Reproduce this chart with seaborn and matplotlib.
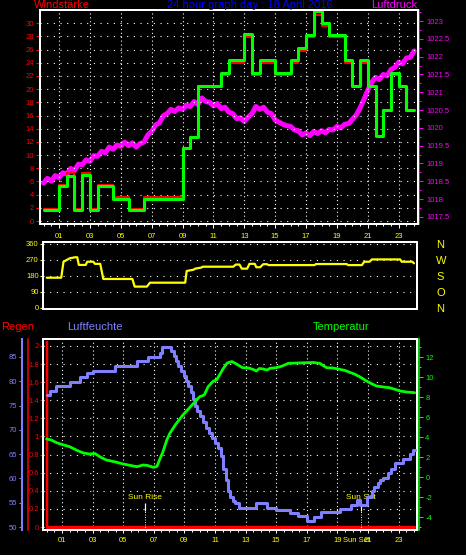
import numpy as np
import pandas as pd
import seaborn as sns
import matplotlib.pyplot as plt
from matplotlib.ticker import MultipleLocator, FormatStrFormatter

W, H = 466, 555
PT = 0.72  # points per pixel at 100 dpi

# ---------------- data ----------------
hour_ticks = [1, 3, 5, 7, 9, 11, 13, 15, 17, 19, 21, 23]
hour_labels = ['01', '03', '05', '07', '09', '11', '13', '15', '17', '19', '21', '23']

# wind (Windstaerke), half hour steps from 00:00
wind_gust = [1.6, 1.6, 5.25, 6.9, 1.6, 7.0, 1.6, 5.3, 5.3, 3.35,
             3.35, 1.6, 1.6, 3.4, 3.4, 3.4, 3.4, 3.4, 11.0, 12.8,
             20.5, 20.5, 20.5, 22.4, 24.4, 24.4, 28.3, 22.5, 24.4, 24.4,
             22.5, 22.5, 24.4, 26.2, 28.2, 31.8, 30.0, 28.2, 28.2, 24.4,
             20.5, 24.4, 20.5, 12.9, 16.8, 22.5, 20.5, 16.8, 16.8]
wind_avg = [1.8, 1.8, 5.5, 7.3, 1.8, 7.3, 1.8, 5.5, 5.5, 3.6,
            3.6, 1.8, 1.8, 3.6, 3.6, 3.6, 3.6, 3.6, 11.0, 12.8,
            20.5, 20.5, 20.5, 22.1, 24.0, 24.0, 27.9, 22.1, 24.0, 24.0,
            22.1, 22.1, 24.0, 25.8, 27.9, 31.3, 29.6, 27.9, 27.9, 24.0,
            20.5, 24.0, 20.5, 12.9, 16.8, 22.1, 20.5, 16.8, 16.8]
wind_hours = np.linspace(0, 24, len(wind_gust))

# pressure (Luftdruck), quarter hour samples
pressure = [1018.45, 1018.58, 1018.50, 1018.66, 1018.60, 1018.74, 1018.70, 1018.86,
            1018.80, 1018.98, 1018.96, 1019.10, 1019.06, 1019.22, 1019.20, 1019.34,
            1019.30, 1019.46, 1019.40, 1019.52, 1019.48, 1019.60, 1019.50, 1019.58,
            1019.46, 1019.56, 1019.60, 1019.80, 1019.90, 1020.08, 1020.14, 1020.34,
            1020.40, 1020.52, 1020.46, 1020.56, 1020.52, 1020.64, 1020.60, 1020.74,
            1020.66, 1020.84, 1020.74, 1020.72, 1020.62, 1020.68, 1020.54, 1020.58,
            1020.44, 1020.40, 1020.26, 1020.28, 1020.18, 1020.30, 1020.40, 1020.60,
            1020.52, 1020.58, 1020.44, 1020.40, 1020.22, 1020.16, 1020.10, 1020.06,
            1020.04, 1019.94, 1019.92, 1019.80, 1019.86, 1019.78, 1019.90, 1019.84,
            1019.92, 1019.86, 1019.96, 1019.94, 1020.04, 1020.00, 1020.10, 1020.12,
            1020.24, 1020.36, 1020.56, 1020.80, 1021.06, 1021.28, 1021.42, 1021.36,
            1021.50, 1021.46, 1021.64, 1021.70, 1021.84, 1021.80, 1021.96, 1021.98,
            1022.16]
p_hours = np.linspace(0, 24, len(pressure))

# wind direction
dir_hours = [0.0, 0.95, 1.1, 1.5, 1.85, 2.0, 2.1, 2.55, 2.65, 3.05,
             3.15, 3.5, 3.7, 5.6, 5.75, 6.55, 6.75, 9.05, 9.15, 9.6,
             9.7, 10.1, 10.2, 12.2, 12.35, 12.6, 12.75, 13.1, 13.25, 13.6,
             13.7, 13.95, 14.15, 14.4, 14.5, 17.5, 17.6, 19.6, 19.7, 20.6,
             20.75, 21.1, 21.25, 23.1, 23.2, 23.9, 24.0]
dir_deg = [170, 170, 260, 279, 285, 285, 242, 242, 260, 260,
           248, 248, 163, 163, 120, 120, 142, 142, 208, 215,
           221, 227, 232, 232, 244, 244, 221, 221, 248, 248,
           229, 229, 246, 246, 241, 241, 247, 247, 241, 241,
           260, 260, 273, 273, 260, 260, 251]
dir_ticks = [0, 90, 180, 270, 360]
dir_names = ['N', 'O', 'S', 'W', 'N']

# humidity (Luftfeuchte), stepped
hum_hours = [0.0, 0.2, 0.6, 1.5, 2.2, 2.65, 3.0, 4.45, 5.9, 6.6,
             7.4, 7.55, 8.15, 8.3, 8.45, 8.6, 8.8, 8.95, 9.1, 9.25,
             9.4, 9.55, 9.7, 9.85, 10.0, 10.2, 10.4, 10.6, 10.8, 11.0,
             11.2, 11.4, 11.55, 11.7, 11.85, 12.0, 12.15, 12.3, 12.6, 13.7,
             14.4, 15.0, 15.9, 16.4, 17.0, 17.5, 17.95, 19.15, 19.9, 20.3,
             20.5, 20.9, 21.25, 21.4, 21.65, 21.8, 22.0, 22.3, 22.5, 22.75,
             23.3, 23.75, 23.95, 24.05]
humidity = [77.2, 78.0, 79.0, 79.9, 80.9, 81.8, 82.1, 83.1, 84.2, 84.9,
            85.9, 87.0, 86.2, 85.2, 84.2, 83.2, 82.2, 81.0, 80.0, 79.0,
            77.8, 76.4, 75.0, 73.8, 72.8, 71.6, 70.4, 69.4, 68.4, 67.4,
            66.2, 64.6, 62.0, 59.6, 57.4, 56.2, 55.4, 54.9, 54.0, 55.0,
            54.0, 53.5, 53.0, 52.2, 51.2, 52.1, 53.2, 53.7, 54.5, 55.6,
            54.5, 56.2, 57.4, 58.2, 59.0, 59.6, 60.2, 61.2, 62.0, 63.1,
            64.0, 65.0, 65.8, 65.8]

# temperature
temp_hours = [0.0, 0.3, 0.65, 1.0, 1.5, 2.0, 2.4, 2.8, 3.15, 3.5,
              3.9, 4.5, 5.0, 5.5, 5.9, 6.3, 6.6, 6.95, 7.2, 7.4,
              7.6, 7.85, 8.05, 8.4, 8.9, 9.5, 10.0, 10.3, 10.55, 10.9,
              11.1, 11.55, 11.8, 12.1, 12.4, 12.8, 13.2, 13.5, 13.7, 13.9,
              14.15, 14.4, 14.6, 15.0, 15.4, 15.8, 16.4, 17.0, 17.4, 17.85,
              18.0, 18.3, 18.7, 19.15, 19.5, 19.8, 20.1, 20.45, 20.9, 21.2,
              21.55, 22.0, 22.4, 22.8, 23.1, 23.5, 24.05]
temperature = [3.8, 3.7, 3.43, 3.25, 3.03, 2.65, 2.4, 2.3, 2.35, 2.0,
               1.7, 1.5, 1.3, 1.15, 1.03, 1.2, 1.15, 0.97, 1.05, 1.8,
               2.53, 3.7, 4.37, 5.2, 6.2, 7.2, 8.03, 8.2, 9.03, 9.6,
               9.7, 10.87, 11.4, 11.55, 11.3, 10.93, 10.9, 10.75, 10.6, 10.85,
               10.8, 10.7, 10.87, 10.93, 11.1, 11.37, 11.4, 11.43, 11.45, 11.37,
               11.2, 10.93, 10.9, 10.77, 10.65, 10.47, 10.3, 10.03, 9.6, 9.35,
               9.1, 9.0, 8.93, 8.75, 8.6, 8.5, 8.43]

# rain (Regen)
rain_hours = list(range(25))
rain_mm = [0.0] * 25
rain_scale_top = 2.04

sunrise = 6.44
sunset = 20.52

# ---------------- style ----------------
sns.set_theme(style='ticks', rc={'figure.facecolor': 'black', 'axes.facecolor': 'black',
                                 'savefig.facecolor': 'black'})
plt.rcParams['font.family'] = ['Liberation Sans', 'DejaVu Sans']
plt.rcParams['axes.unicode_minus'] = False

GREEN = '#00ff00'
MAGENTA = '#ff00ff'
YELLOW = '#ffff00'
RED = '#ff0000'
HUM = '#8080ff'
TICK = 5.5

fig = plt.figure(figsize=(W / 100, H / 100), dpi=100)


def box(l, t, r, b):
    return [l / W, 1 - b / H, (r - l) / W, (b - t) / H]


def bare(ax):
    for sp in ax.spines.values():
        sp.set_visible(False)
    ax.patch.set_visible(False)


def frame(ax):
    for sp in ax.spines.values():
        sp.set_color('white')
        sp.set_linewidth(2 * PT)


def dotted_grid(ax, xaxis=True):
    ax.grid(axis='y', which='major', color='white', ls=(0, (1, 5)), lw=0.8)
    if xaxis:
        ax.grid(axis='x', which='major', color='white', ls=(0, (1, 2.5)), lw=0.8)
    ax.set_axisbelow(True)


def line(ax, x, y, color, lw, **kw):
    sns.lineplot(x=x, y=y, ax=ax, color=color, lw=lw, estimator=None,
                 sort=False, legend=False, **kw)


# ---------------- top: wind + pressure ----------------
ax_w = fig.add_axes(box(40, 10, 418, 224))
ax_p = ax_w.twinx()
ax_w.set_zorder(ax_p.get_zorder() + 1)
ax_w.patch.set_visible(False)
ax_p.patch.set_visible(False)

line(ax_p, p_hours, pressure, MAGENTA, 3.6)
line(ax_w, wind_hours, wind_avg, RED, 1.5, drawstyle='steps-post')
line(ax_w, wind_hours, wind_gust, GREEN, 2.2, drawstyle='steps-post')

ax_w.set_xlim(-0.233, 24.25)
ax_w.set_ylim(-0.45, 32)
ax_p.set_ylim(1017.30, 1023.31)
ax_w.set_yticks(range(0, 31, 2))
ax_w.set_xticks(hour_ticks, labels=hour_labels)
ax_w.xaxis.set_minor_locator(MultipleLocator(0.5))
ax_w.set_xlabel('')
ax_w.set_ylabel('')
ax_p.set_ylabel('')
ax_w.tick_params(axis='y', direction='out', length=4 * PT, width=1 * PT, color=RED,
                 labelcolor=RED, labelsize=TICK, pad=1.5)
ax_w.tick_params(axis='x', which='major', direction='out', length=3.5 * PT, width=1 * PT,
                 color='white', labelcolor=YELLOW, labelsize=TICK, pad=4)
ax_w.tick_params(axis='x', which='minor', direction='out', length=2.5 * PT, width=1 * PT,
                 color='white')
frame(ax_w)
dotted_grid(ax_w)

bare(ax_p)
ax_p.spines['right'].set_visible(True)
ax_p.spines['right'].set_color(MAGENTA)
ax_p.spines['right'].set_linewidth(1.5 * PT)
ax_p.spines['right'].set_position(('outward', 1.5 * PT))
ax_p.yaxis.set_major_locator(MultipleLocator(0.5))
ax_p.yaxis.set_minor_locator(MultipleLocator(0.25))
ax_p.yaxis.set_major_formatter(FormatStrFormatter('%g'))
ax_p.tick_params(axis='y', which='major', direction='out', length=4 * PT, width=1 * PT,
                 color=MAGENTA, labelcolor=MAGENTA, labelsize=TICK, pad=2)
ax_p.tick_params(axis='y', which='minor', direction='out', length=2 * PT, width=1 * PT,
                 color=MAGENTA)

# ---------------- middle: wind direction ----------------
ax_d = fig.add_axes(box(43, 242, 417, 309))
line(ax_d, dir_hours, dir_deg, YELLOW, 1.6)
ax_d.set_xlim(-0.24, 24.2)
ax_d.set_ylim(-6, 371)
ax_d.set_yticks(dir_ticks)
ax_d.yaxis.set_minor_locator(MultipleLocator(45))
ax_d.set_xticks([])
ax_d.set_xlabel('')
ax_d.set_ylabel('')
ax_d.tick_params(axis='y', which='major', direction='out', length=3 * PT, width=1 * PT,
                 color=YELLOW, labelcolor=YELLOW, labelsize=TICK, pad=1)
ax_d.tick_params(axis='y', which='minor', direction='out', length=1.5 * PT, width=1 * PT,
                 color=YELLOW)
frame(ax_d)
dotted_grid(ax_d, xaxis=False)

ax_dn = ax_d.twinx()
bare(ax_dn)
ax_dn.set_ylim(ax_d.get_ylim())
ax_dn.set_yticks(dir_ticks, labels=dir_names)
ax_dn.tick_params(axis='y', length=0, labelcolor=YELLOW, labelsize=8, pad=14)

# ---------------- bottom: rain, humidity, temperature ----------------
ax_b = fig.add_axes(box(43, 339, 417, 530))
line(ax_b, rain_hours, rain_mm, RED, 2.4)
ax_b.set_xlim(-0.24, 24.2)
ax_b.set_ylim(-0.033, 2.077)
ax_b.yaxis.set_major_locator(MultipleLocator(0.2))
ax_b.yaxis.set_minor_locator(MultipleLocator(0.1))
ax_b.yaxis.set_major_formatter(FormatStrFormatter('%g'))
ax_b.set_xticks(hour_ticks, labels=hour_labels)
ax_b.xaxis.set_minor_locator(MultipleLocator(0.5))
ax_b.set_xlabel('')
ax_b.set_ylabel('')
ax_b.tick_params(axis='y', which='major', direction='out', length=3 * PT, width=1 * PT,
                 color=RED, labelcolor=RED, labelsize=TICK, pad=0.8)
ax_b.tick_params(axis='y', which='minor', direction='out', length=1.5 * PT, width=1 * PT,
                 color=RED)
ax_b.tick_params(axis='x', which='major', direction='out', length=3 * PT, width=1 * PT,
                 color='white', labelcolor=YELLOW, labelsize=TICK, pad=3)
ax_b.tick_params(axis='x', which='minor', direction='out', length=2.5 * PT, width=1 * PT,
                 color='white')
frame(ax_b)
dotted_grid(ax_b)

# sun rise / sun set markers
for t, name in [(sunrise, 'Sun Rise'), (sunset, 'Sun Set')]:
    ax_b.vlines(t, 0.18, 0.26, color='white', lw=1.2 * PT)
    ax_b.vlines(t, -0.03, 0.18, color=YELLOW, lw=1.0 * PT, ls=(0, (1, 1.5)))
    ax_b.text(t, 0.33, name, color=YELLOW, fontsize=6, ha='center', va='center')
ax_b.text(sunset - 0.25, -0.145, 'Sun Set', color=YELLOW, fontsize=TICK,
          ha='center', va='center', clip_on=False)

# red rain scale line left of the labels
ax_rl = ax_b.twinx()
bare(ax_rl)
ax_rl.set_yticks([])
ax_rl.spines['left'].set_visible(True)
ax_rl.spines['left'].set_color(RED)
ax_rl.spines['left'].set_linewidth(1.5 * PT)
ax_rl.spines['left'].set_position(('outward', 15 * PT))

# rain bar at the start of the day
ax_rb = ax_b.twinx()
bare(ax_rb)
ax_rb.set_yticks([])
ax_rb.set_ylim(ax_b.get_ylim())
ax_rb.spines['left'].set_visible(True)
ax_rb.spines['left'].set_color(RED)
ax_rb.spines['left'].set_linewidth(2.5 * PT)
ax_rb.spines['left'].set_position(('data', 0))
ax_rb.spines['left'].set_bounds(0, rain_scale_top)

# humidity
ax_h = ax_b.twinx()
bare(ax_h)
line(ax_h, hum_hours, humidity, HUM, 2.2, drawstyle='steps-post')
ax_h.set_ylim(49.4, 88.7)
ax_h.yaxis.set_ticks_position('left')
ax_h.yaxis.set_label_position('left')
ax_h.yaxis.set_major_locator(MultipleLocator(5))
ax_h.yaxis.set_minor_locator(MultipleLocator(1))
ax_h.set_ylabel('')
ax_h.spines['left'].set_visible(True)
ax_h.spines['left'].set_color(HUM)
ax_h.spines['left'].set_linewidth(2 * PT)
ax_h.spines['left'].set_position(('outward', 21 * PT))
ax_h.tick_params(axis='y', which='major', direction='out', length=3 * PT, width=1 * PT,
                 color=HUM, labelcolor=HUM, labelsize=TICK, pad=1.5)
ax_h.tick_params(axis='y', which='minor', direction='out', length=1.5 * PT, width=1 * PT,
                 color=HUM)

# temperature
ax_t = ax_b.twinx()
bare(ax_t)
line(ax_t, temp_hours, temperature, GREEN, 2.0)
ax_t.set_ylim(-5.3, 13.8)
ax_t.yaxis.set_major_locator(MultipleLocator(2))
ax_t.yaxis.set_minor_locator(MultipleLocator(1))
ax_t.set_ylabel('')
ax_t.spines['right'].set_visible(True)
ax_t.spines['right'].set_color(GREEN)
ax_t.spines['right'].set_linewidth(1.5 * PT)
ax_t.spines['right'].set_position(('outward', 2 * PT))
ax_t.tick_params(axis='y', which='major', direction='out', length=3.5 * PT, width=1 * PT,
                 color=GREEN, labelcolor=GREEN, labelsize=TICK, pad=2)
ax_t.tick_params(axis='y', which='minor', direction='out', length=2 * PT, width=1 * PT,
                 color=GREEN)
ax_t.set_xlim(ax_b.get_xlim())

# ---------------- titles ----------------
fig.text(34 / W, 1 - 5.5 / H, 'Windstärke', color=RED, fontsize=8, ha='left', va='center')
fig.text(250 / W, 1 - 5.5 / H, '24 hour graph day : 18 April 2016', color='#0000ff',
         fontsize=8, ha='center', va='center')
fig.text(371 / W, 1 - 5.5 / H, 'Luftdruck', color=MAGENTA, fontsize=8, ha='left', va='center')
fig.text(1 / W, 1 - 327 / H, 'Regen', color=RED, fontsize=8, ha='left', va='center')
fig.text(67 / W, 1 - 327 / H, 'Luftfeuchte', color=HUM, fontsize=8, ha='left', va='center')
fig.text(313 / W, 1 - 327 / H, 'Temperatur', color=GREEN, fontsize=8, ha='left', va='center')

fig.savefig('out.png', dpi=100, facecolor='black')
